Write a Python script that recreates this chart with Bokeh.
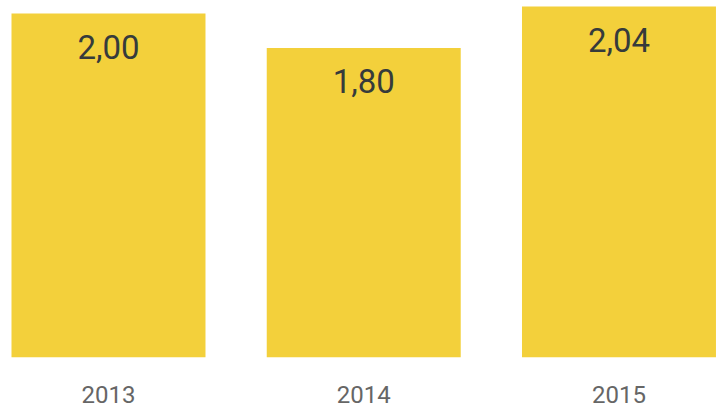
from bokeh.plotting import figure
from bokeh.models import ColumnDataSource, FixedTicker, Range1d
from bokeh.core.properties import value
from bokeh.embed import file_html
from bokeh.resources import INLINE

years = ["2013", "2014", "2015"]
values = [2.00, 1.80, 2.04]
labels = ["2,00", "1,80", "2,04"]

xs = list(range(len(years)))
src = ColumnDataSource(dict(x=xs, top=values, label=labels))

p = figure(width=717, height=410, output_backend="svg",
           toolbar_location=None, x_range=Range1d(-0.4231, 2.386),
           y_range=Range1d(0, 2.0756), min_border_left=0, min_border_right=0,
           min_border_top=0, min_border_bottom=53)

p.vbar(x="x", top="top", bottom=0, width=0.76, source=src,
       fill_color="#F3D03B", line_color=None)

p.text(x="x", y="top", text="label", source=src, y_offset=33,
       text_align="center", text_baseline="middle",
       text_font=value("Roboto"), text_font_size="33px",
       text_color="#363B3B")

p.yaxis.visible = False
p.xaxis.ticker = FixedTicker(ticks=xs)
p.xaxis.major_label_overrides = {i: y for i, y in zip(xs, years)}
p.xaxis.axis_line_color = None
p.xaxis.major_tick_line_color = None
p.xaxis.minor_tick_line_color = None
p.xaxis.major_label_standoff = 22
p.xaxis.major_label_text_font = "Roboto"
p.xaxis.major_label_text_font_size = "24px"
p.xaxis.major_label_text_color = "#666666"
p.xgrid.visible = False
p.ygrid.visible = False
p.outline_line_color = None

open("out.html", "w").write(file_html(p, INLINE))
